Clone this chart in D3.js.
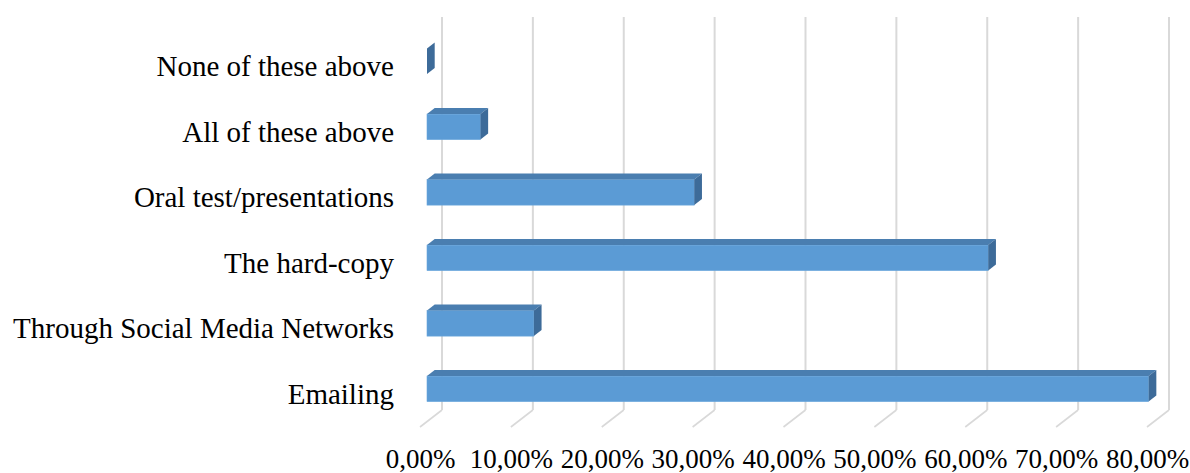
<!DOCTYPE html>
<html>
<head>
<meta charset="utf-8">
<script src="https://cdn.jsdelivr.net/npm/d3@7"></script>
<style>
  html, body { margin: 0; padding: 0; background: #ffffff; }
  svg { display: block; }
  text { font-family: "Liberation Serif", "Times New Roman", serif; fill: #000; }
</style>
</head>
<body>
<svg id="chart" width="1190" height="473"></svg>
<script>
// Data (top to bottom as displayed)
const categories = ["None of these above", "All of these above", "Oral test/presentations", "The hard-copy", "Through Social Media Networks", "Emailing"];
const values = [0.0, 0.0588, 0.2941, 0.6176, 0.1176, 0.7941];
const tickValues = [0, 0.1, 0.2, 0.3, 0.4, 0.5, 0.6, 0.7, 0.8];

const svg = d3.select("#chart");

// 3D geometry
const backX0 = 442, frontX0 = 420, barX0 = 427;
const wallTop = 17, floorBack = 410, floorFront = 427;
const depthDx = 7.7, depthDy = -6;

const x = d3.scaleLinear().domain([0, 0.8]).range([0, 727]);
const y = d3.scaleBand().domain(categories).range([28.6, 421.6]).paddingInner(0.61).paddingOuter(0.305);

const fmt = v => d3.format(".2f")(v * 100).replace(".", ",") + "%";

// Gridlines (back wall + floor)
const grid = svg.append("g");
grid.selectAll("line.v").data(tickValues).join("line")
  .attr("class", "v")
  .attr("x1", d => backX0 + x(d)).attr("x2", d => backX0 + x(d))
  .attr("y1", wallTop).attr("y2", floorBack)
  .attr("stroke", "#d9d9d9").attr("stroke-width", 2);
grid.selectAll("line.f").data(tickValues).join("line")
  .attr("class", "f")
  .attr("x1", d => backX0 + x(d)).attr("y1", floorBack)
  .attr("x2", d => frontX0 + x(d)).attr("y2", floorFront)
  .attr("stroke", "#d9d9d9").attr("stroke-width", 1.6);

// Bars
const bars = svg.append("g");
const rows = categories.map((c, i) => ({ c, v: values[i] }));
rows.forEach(d => {
  const x0 = barX0, x1 = barX0 + x(d.v);
  const yt = y(d.c), yb = y(d.c) + y.bandwidth();
  const g = bars.append("g");
  if (d.v > 0) {
    g.append("rect").attr("x", x0).attr("y", yt).attr("width", x1 - x0).attr("height", yb - yt)
      .attr("fill", "#5b9bd5").attr("stroke", "#6aa7dc").attr("stroke-width", 0.6);
    g.append("path")
      .attr("d", `M${x0},${yt}L${x0 + depthDx},${yt + depthDy}L${x1 + depthDx},${yt + depthDy}L${x1},${yt}Z`)
      .attr("fill", "#4a7eb0");
  }
  g.append("path")
    .attr("d", `M${x1},${yt}L${x1 + depthDx},${yt + depthDy}L${x1 + depthDx},${yb + depthDy}L${x1},${yb}Z`)
    .attr("fill", "#3d6b99");
});

// Category labels
svg.append("g").selectAll("text").data(categories).join("text")
  .attr("x", 394)
  .attr("y", d => y(d) + y.bandwidth() / 2 + 15)
  .attr("text-anchor", "end")
  .attr("font-size", 29)
  .text(d => d);

// X axis labels
const xAxis = d3.axisBottom(x).tickValues(tickValues).tickFormat(fmt).tickSize(0).tickPadding(0);
const axisG = svg.append("g").attr("transform", `translate(${frontX0},0)`).call(xAxis);
axisG.select(".domain").remove();
axisG.selectAll("text")
  .attr("y", 468).attr("dy", null)
  .attr("font-size", 27)
  .attr("font-family", "Liberation Serif, Times New Roman, serif")
  .attr("fill", "#000");
</script>
</body>
</html>
